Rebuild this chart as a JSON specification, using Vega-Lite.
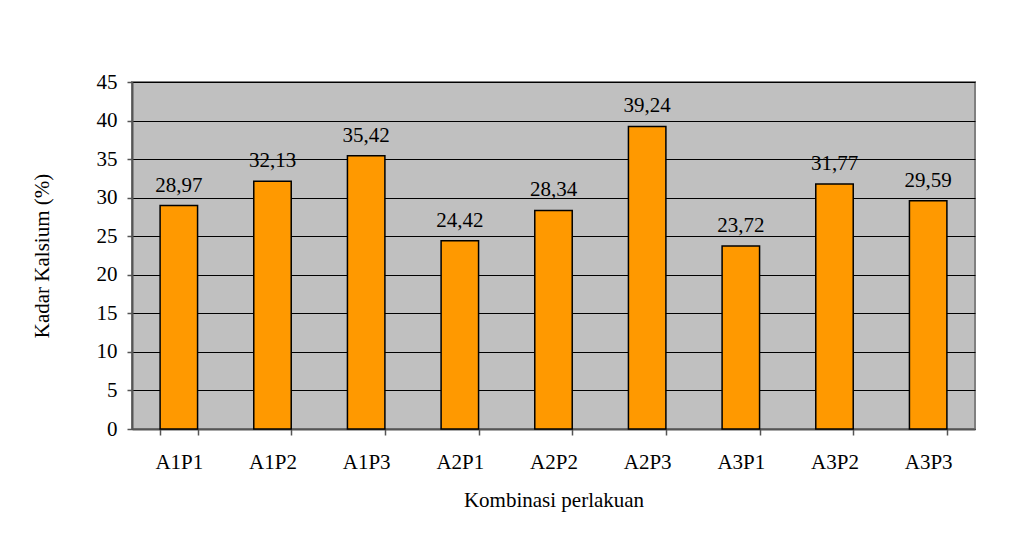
{
  "$schema": "https://vega.github.io/schema/vega-lite/v6.json",
  "width": 843,
  "height": 347,
  "autosize": {"type": "none"},
  "padding": {"left": 132, "top": 82, "right": 60, "bottom": 114},
  "background": "white",
  "config": {
    "font": "Times New Roman, Liberation Serif, serif",
    "view": {"fill": "#C0C0C0", "stroke": "#808080", "strokeWidth": 2}
  },
  "data": {
    "values": [
      {"k": "A1P1", "v": 28.97, "t": "28,97"},
      {"k": "A1P2", "v": 32.13, "t": "32,13"},
      {"k": "A1P3", "v": 35.42, "t": "35,42"},
      {"k": "A2P1", "v": 24.42, "t": "24,42"},
      {"k": "A2P2", "v": 28.34, "t": "28,34"},
      {"k": "A2P3", "v": 39.24, "t": "39,24"},
      {"k": "A3P1", "v": 23.72, "t": "23,72"},
      {"k": "A3P2", "v": 31.77, "t": "31,77"},
      {"k": "A3P3", "v": 29.59, "t": "29,59"}
    ]
  },
  "encoding": {
    "x": {
      "field": "k", "type": "nominal", "sort": null,
      "scale": {"paddingInner": 0.6, "paddingOuter": 0.3},
      "axis": {
        "title": "Kombinasi perlakuan", "titleFont": "Times New Roman, Liberation Serif, serif", "titleFontSize": 21, "titleFontWeight": "normal", "titleColor": "black", "titlePadding": 17,
        "labelAngle": 0, "labelFont": "Times New Roman, Liberation Serif, serif", "labelFontSize": 21, "labelColor": "black", "labelPadding": 16,
        "tickBand": "extent", "tickSize": 6, "tickColor": "#555555", "tickWidth": 1.5,
        "domainColor": "#555555", "domainWidth": 2, "grid": false
      }
    },
    "y": {
      "field": "v", "type": "quantitative",
      "scale": {"domain": [0, 45], "nice": false},
      "axis": {
        "title": "Kadar Kalsium (%)", "titleFont": "Times New Roman, Liberation Serif, serif", "titleFontSize": 21, "titleFontWeight": "normal", "titleColor": "black", "titlePadding": 44,
        "values": [0, 5, 10, 15, 20, 25, 30, 35, 40, 45],
        "labelFont": "Times New Roman, Liberation Serif, serif", "labelFontSize": 21, "labelColor": "black", "labelPadding": 10,
        "tickSize": 5, "tickColor": "#555555", "tickWidth": 1.5,
        "domainColor": "#555555", "domainWidth": 2,
        "grid": true, "gridColor": "black", "gridWidth": 1
      }
    }
  },
  "layer": [
    {"mark": {"type": "bar", "color": "#FF9900", "stroke": "black", "strokeWidth": 1.5}},
    {"mark": {"type": "text", "baseline": "bottom", "dy": -10, "font": "Times New Roman, Liberation Serif, serif", "fontSize": 21, "color": "black"},
     "encoding": {"text": {"field": "t"}}}
  ]
}
